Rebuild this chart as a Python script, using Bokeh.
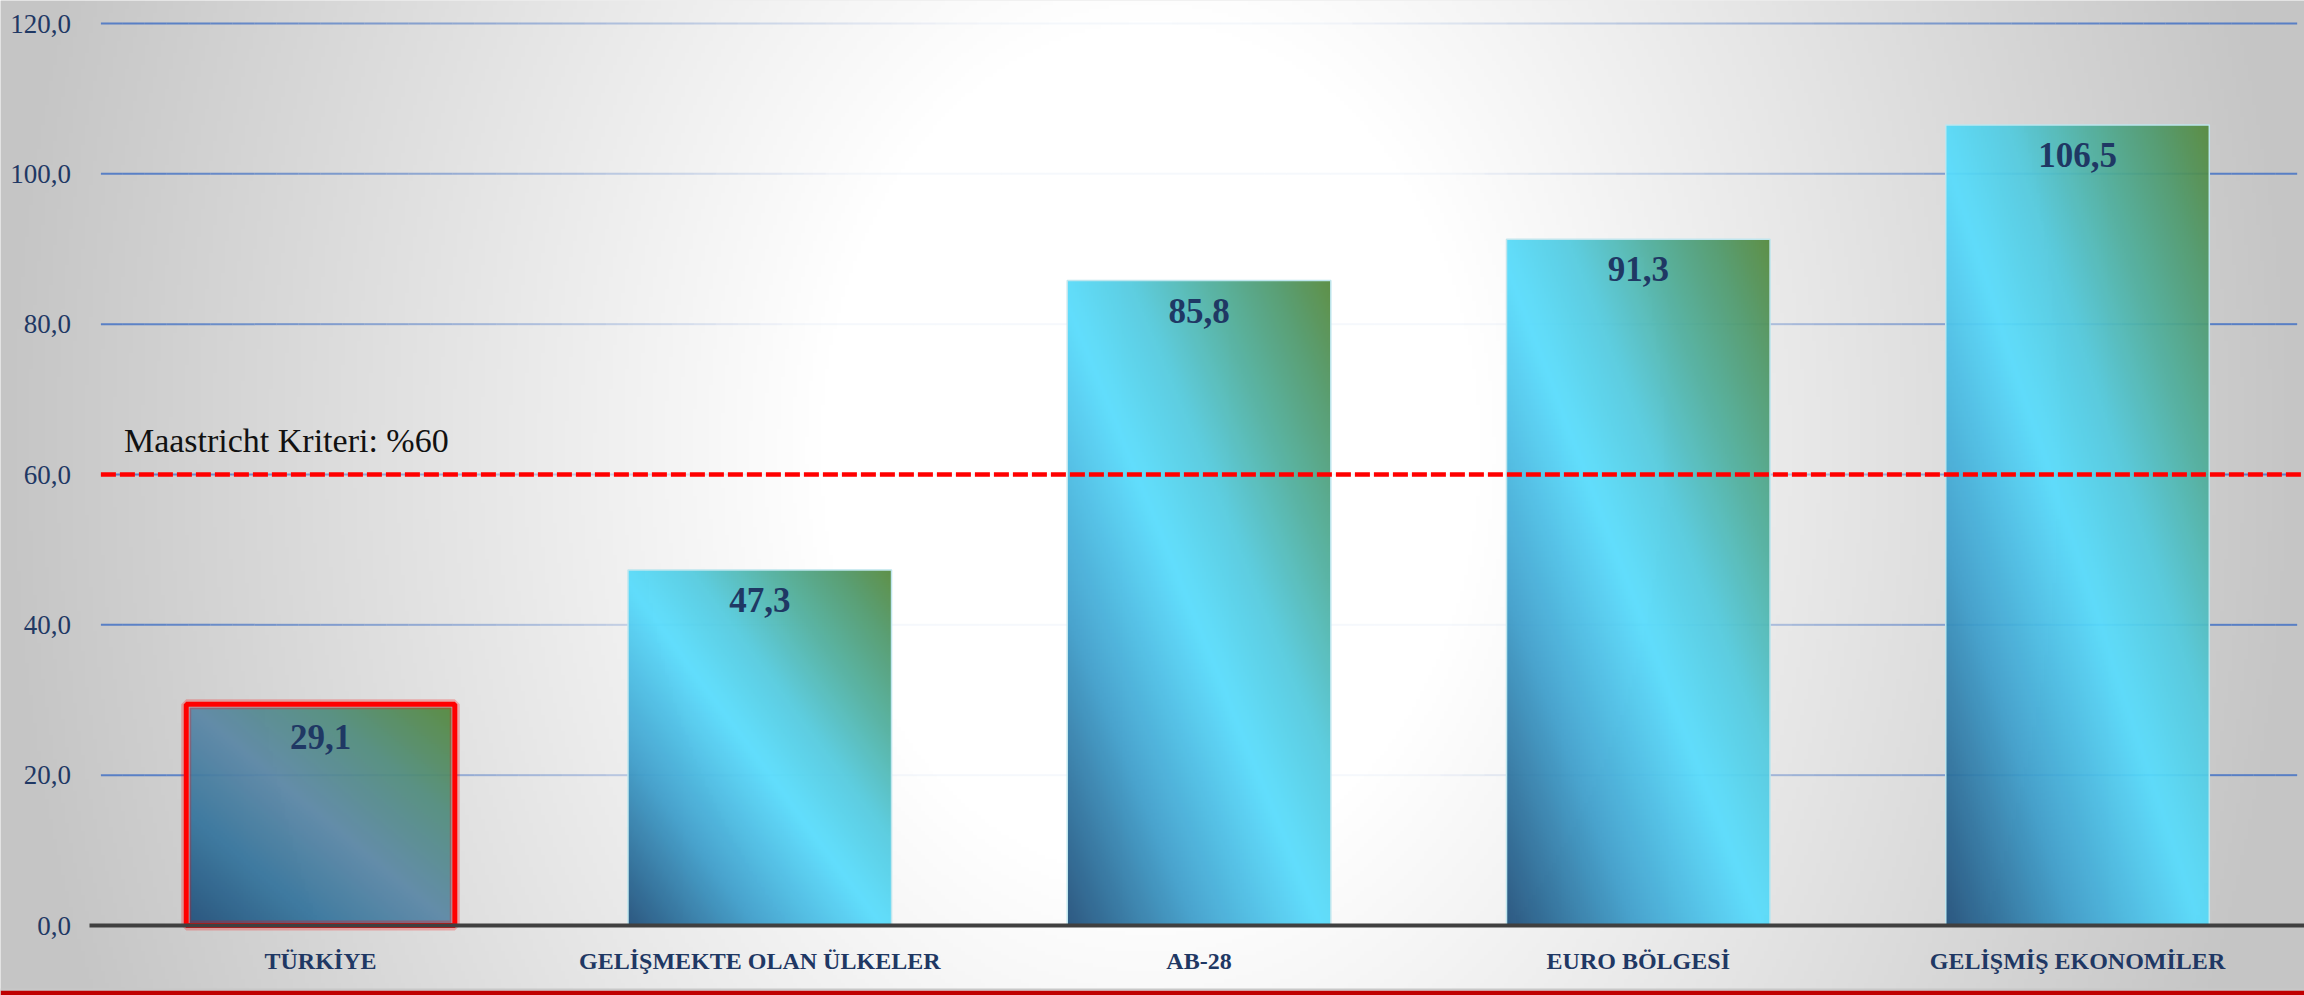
import numpy as np
from bokeh.plotting import figure
from bokeh.models import FixedTicker, CustomJSTickFormatter, BoxAnnotation, Label
from bokeh.embed import file_html
from bokeh.resources import INLINE

# ---------------- data ----------------
categories = ["TÜRKİYE", "GELİŞMEKTE OLAN ÜLKELER", "AB-28", "EURO BÖLGESİ", "GELİŞMİŞ EKONOMİLER"]
debt_ratio = [29.1, 47.3, 85.8, 91.3, 106.5]
y_ticks = [0, 20, 40, 60, 80, 100, 120]
maastricht_limit = 60
maastricht_label = "Maastricht Kriteri: %60"
highlight = "TÜRKİYE"

# ---------------- geometry ----------------
W, H = 2304, 995
PAGE = 0
left_px, zero_px, top_px = 100.4, 925.0, 23.0
cat_px = 439.25
ypx = (zero_px - top_px) / 120.0
x_start = -0.5 - (left_px - PAGE) / cat_px
x_end = x_start + W / cat_px
y_end = 120 + (top_px - PAGE) / ypx
y_start = y_end - H / ypx

SERIF = "Liberation Serif"
NAVY = "#1f3864"

p = figure(width=W, height=H, x_range=(x_start, x_end), y_range=(y_start, y_end),
           output_backend="svg", toolbar_location=None, min_border=0,
           outline_line_color=None, background_fill_color="#dedede",
           border_fill_color="#dedede")
p.xgrid.visible = False
p.ygrid.visible = False


def bg_value(X, Y):
    dx = X - 1150.0
    dy = (Y - 450.0) / 1.3
    d = np.sqrt(dx * dx + dy * dy)
    f = np.clip((d - 330.0) / (1150.0 - 330.0), 0, 1)
    return 255.0 - f * (255.0 - 197.0)


def to_rgba(r, g, b, a):
    ny, nx = r.shape
    img = np.empty((ny, nx), dtype=np.uint32)
    v = img.view(dtype=np.uint8).reshape((ny, nx, 4))
    v[..., 0] = np.clip(r, 0, 255)
    v[..., 1] = np.clip(g, 0, 255)
    v[..., 2] = np.clip(b, 0, 255)
    v[..., 3] = a
    return img


# background glow
nx_bg, ny_bg = 576, 249
jj = (np.arange(nx_bg) + 0.5) * W / nx_bg + PAGE
kk = PAGE + H - (np.arange(ny_bg) + 0.5) * H / ny_bg
XX, YY = np.meshgrid(jj, kk)
G = bg_value(XX, YY)
p.image_rgba(image=[to_rgba(G, G, G, 255)], x=x_start, y=y_start,
             dw=x_end - x_start, dh=y_end - y_start, level="image")

# fading gridlines
gx = np.linspace(-0.5, 4.5, 101)
sx0, sx1, sy, sa = [], [], [], []
for t in y_ticks[1:]:
    Yw = zero_px - t * ypx
    for a, b in zip(gx[:-1], gx[1:]):
        Xw = left_px + ((a + b) / 2 + 0.5) * cat_px
        bgv = bg_value(Xw, Yw)
        alpha = float(np.clip((255 - bgv) / (255 - 205), 0.06, 1.0)) * 0.85
        sx0.append(a); sx1.append(b); sy.append(t); sa.append(alpha)
p.segment(x0=sx0, x1=sx1, y0=sy, y1=sy, line_color="#4472c4", line_width=2,
          line_alpha=sa, line_cap="butt", level="underlay")

# bar gradients
normal_stops = [(0.0, (31, 78, 121)), (0.25, (62, 160, 205)), (0.48, (87, 220, 253)),
                (0.62, (82, 202, 222)), (0.76, (79, 176, 160)), (0.89, (78, 153, 108)),
                (1.0, (84, 136, 58))]
muted_stops = [(0.0, (31, 78, 121)), (0.25, (52, 116, 156)), (0.5, (91, 135, 166)),
               (0.75, (80, 140, 124)), (1.0, (84, 136, 58))]


def grad_img(val, stops):
    nx = 133
    ny = max(2, int(round(val * ypx / 2)))
    u = (np.arange(nx) + 0.5) / nx
    v = (np.arange(ny) + 0.5) / ny
    U, V = np.meshgrid(u, v)
    T = (U + V) / 2
    ts = [s[0] for s in stops]
    r = np.interp(T, ts, [s[1][0] for s in stops])
    g = np.interp(T, ts, [s[1][1] for s in stops])
    b = np.interp(T, ts, [s[1][2] for s in stops])
    return to_rgba(r, g, b, 238)


idx = list(range(len(categories)))
bar_w = 0.6
imgs = [grad_img(v, muted_stops if c == highlight else normal_stops)
        for c, v in zip(categories, debt_ratio)]
p.image_rgba(image=imgs, x=[i - bar_w / 2 for i in idx], y=[0] * len(idx),
             dw=[bar_w] * len(idx), dh=debt_ratio)

# bar outlines
p.vbar(x=idx, top=debt_ratio, width=bar_w, bottom=0, fill_alpha=0,
       line_color="#bfe6ee", line_width=1.5)
hi = [i for i, c in enumerate(categories) if c == highlight]
hv = [debt_ratio[i] for i in hi]
pad_x = 2.5 / cat_px
pad_y = 2.5 / ypx
p.vbar(x=hi, top=[v + pad_y for v in hv], width=bar_w + 2 * pad_x, bottom=0,
       fill_alpha=0, line_color="#ff0000", line_width=10, line_alpha=0.25)
p.vbar(x=hi, top=[v + pad_y for v in hv], width=bar_w + 2 * pad_x, bottom=0,
       fill_alpha=0, line_color="#ff0000", line_width=5)

# Maastricht threshold
p.segment(x0=[-0.5], x1=[x_end], y0=[maastricht_limit], y1=[maastricht_limit],
          line_color="#ff0000", line_width=4.5, line_dash="15 4", line_cap="butt")
p.add_layout(Label(x=-0.5 + 23 / cat_px, y=maastricht_limit + 34 / ypx,
                   text=maastricht_label, text_font=SERIF, text_font_size="34px",
                   text_color="#111111", text_baseline="alphabetic"))

# value labels
p.text(x=idx, y=[v - 18 / ypx for v in debt_ratio],
       text=[f"{v:.1f}".replace(".", ",") for v in debt_ratio],
       text_align="center", text_baseline="top", text_font=SERIF,
       text_font_size="35px", text_font_style="bold", text_color=NAVY)

# bottom red band
p.add_layout(BoxAnnotation(bottom=y_start, top=y_start + 5 / ypx,
                           fill_color="#c00000", fill_alpha=1, line_color=None))
p.add_layout(BoxAnnotation(bottom=y_start + 5 / ypx, top=y_start + 7 / ypx,
                           fill_color="#c8c8c8", fill_alpha=1, line_color=None))

# axes
xa = p.xaxis[0]
xa.ticker = FixedTicker(ticks=idx)
xa.formatter = CustomJSTickFormatter(args=dict(labels=categories),
                                     code="const i = Math.round(tick); return (i >= 0 && i < labels.length) ? labels[i] : '';")
xa.fixed_location = 0
xa.bounds = (-0.527, x_end)
xa.axis_line_width = 4
xa.axis_line_color = "#404040"
xa.major_tick_line_color = None
xa.minor_tick_line_color = None
xa.major_label_text_font = SERIF
xa.major_label_text_font_style = "bold"
xa.major_label_text_font_size = "24px"
xa.major_label_text_color = NAVY
xa.major_label_standoff = 16

ya = p.yaxis[0]
ya.ticker = FixedTicker(ticks=y_ticks)
ya.formatter = CustomJSTickFormatter(code="return tick.toFixed(1).replace('.', ',');")
ya.fixed_location = -0.5
ya.axis_line_color = None
ya.major_tick_line_color = None
ya.minor_tick_line_color = None
ya.major_label_text_font = SERIF
ya.major_label_text_font_size = "27px"
ya.major_label_text_color = NAVY
ya.major_label_standoff = 24

open("out.html", "w").write(file_html(p, INLINE))
